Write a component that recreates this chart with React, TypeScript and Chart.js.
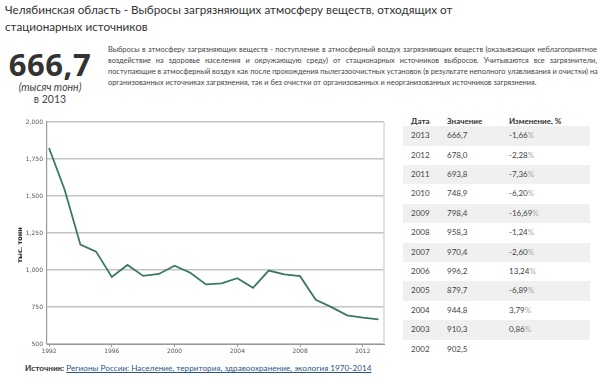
import React, { useEffect, useRef } from "react";
import { Chart, registerables } from "chart.js";

Chart.register(...registerables);

const years = [1992, 1993, 1994, 1995, 1996, 1997, 1998, 1999, 2000, 2001, 2002, 2003, 2004, 2005, 2006, 2007, 2008, 2009, 2010, 2011, 2012, 2013];
const emissions = [1824, 1541, 1171, 1124, 953, 1034, 960, 973, 1029, 982, 902.5, 910.3, 944.8, 879.7, 996.2, 970.4, 958.3, 798.4, 748.9, 693.8, 678.0, 666.7];
const xTicks = [1992, 1996, 2000, 2004, 2008, 2012];
const yTicks = [500, 750, 1000, 1250, 1500, 1750, 2000];
const yTitle = "тыс. тонн";

const tableYears = ["2013", "2012", "2011", "2010", "2009", "2008", "2007", "2006", "2005", "2004", "2003", "2002"];
const tableValues = ["666,7", "678,0", "693,8", "748,9", "798,4", "958,3", "970,4", "996,2", "879,7", "944,8", "910,3", "902,5"];
const tableChanges = ["-1,66", "-2,28", "-7,36", "-6,20", "-16,69", "-1,24", "-2,60", "13,24", "-6,89", "3,79", "0,86", ""];

const titleLines = ["Челябинская область - Выбросы загрязняющих атмосферу веществ, отходящих от", "стационарных источников"];
const descLines = [
  "Выбросы в атмосферу загрязняющих веществ - поступление в атмосферный воздух загрязняющих веществ (оказывающих неблагоприятное",
  "воздействие на здоровье населения и окружающую среду) от стационарных источников выбросов. Учитываются все загрязнители,",
  "поступающие в атмосферный воздух как после прохождения пылегазоочистных установок (в результате неполного улавливания и очистки) на",
  "организованных источниках загрязнения, так и без очистки от организованных и неорганизованных источников загрязнения.",
];

const FONT = "Lato, 'Open Sans', sans-serif";

const decor = {
  id: "decor",
  afterDraw(chart: any) {
    const { ctx, chartArea } = chart;
    ctx.save();
    ctx.strokeStyle = "#d8d8d8";
    ctx.lineWidth = 1.5;
    ctx.beginPath();
    ctx.moveTo(chartArea.right, chartArea.top);
    ctx.lineTo(chartArea.right, chartArea.bottom);
    ctx.stroke();
    ctx.translate(20, (chartArea.top + chartArea.bottom) / 2 + 12);
    ctx.rotate(-Math.PI / 2);
    ctx.font = "bold 6.5px 'DejaVu Sans', sans-serif";
    ctx.fillStyle = "#222";
    ctx.textAlign = "center";
    ctx.textBaseline = "middle";
    ctx.fillText(yTitle, 0, 0);
    ctx.restore();
  },
};

function LineChart() {
  const ref = useRef<HTMLCanvasElement>(null);
  useEffect(() => {
    if (!ref.current) return;
    const chart = new Chart(ref.current, {
      type: "line",
      data: {
        datasets: [
          {
            data: years.map((y, i) => ({ x: y, y: emissions[i] })),
            borderColor: "#3a7a5c",
            borderWidth: 1.8,
            pointRadius: 0,
            tension: 0,
            fill: false,
          },
        ],
      },
      options: {
        animation: false,
        responsive: false,
        maintainAspectRatio: false,
        layout: { padding: { left: 0, top: 12, right: 8, bottom: 0 } },
        plugins: { legend: { display: false }, tooltip: { enabled: false } },
        scales: {
          x: {
            type: "linear",
            min: 1991.87,
            max: 2013.35,
            afterBuildTicks: (scale: any) => {
              scale.ticks = xTicks.map((v) => ({ value: v }));
            },
            afterFit: (scale: any) => {
              scale.height = 16;
            },
            grid: { drawOnChartArea: false, drawTicks: true, tickLength: 3, color: "#999" },
            border: { color: "#999", width: 1 },
            ticks: {
              font: { family: "'DejaVu Sans', sans-serif", size: 6 },
              color: "#555",
              padding: 1,
              maxRotation: 0,
              autoSkip: false,
              callback: (v: any) => String(v),
            },
          },
          y: {
            min: 500,
            max: 2000,
            afterBuildTicks: (scale: any) => {
              scale.ticks = yTicks.map((v) => ({ value: v }));
            },
            afterFit: (scale: any) => {
              scale.width = 47;
            },
            grid: { color: "#c4c4c4", lineWidth: 1.5, drawTicks: false },
            border: { color: "#999", width: 1.2 },
            ticks: {
              font: { family: "'DejaVu Sans', sans-serif", size: 6 },
              color: "#555",
              padding: 4,
              autoSkip: false,
              callback: (v: any) => Number(v).toLocaleString("en-US"),
            },
          },
        },
      },
      plugins: [decor],
    } as any);
    return () => chart.destroy();
  }, []);
  return <canvas ref={ref} width={392} height={250} style={{ position: "absolute", left: 0, top: 110, width: 392, height: 250 }} />;
}

export default function App() {
  const rowH = 19.4;
  const cell = (left: number) => ({ position: "absolute" as const, left, top: 0, lineHeight: rowH + "px" });
  return (
    <div style={{ position: "absolute", left: 0, top: 0, width: 600, height: 377, background: "#fff", overflow: "hidden", fontFamily: FONT, color: "#333" }}>
      <div style={{ position: "absolute", left: 5, top: 1, fontSize: 11.7, lineHeight: "17px", color: "#333", whiteSpace: "nowrap" }}>
        {titleLines.map((l, i) => (
          <div key={i}>{l}</div>
        ))}
      </div>

      <div style={{ position: "absolute", left: 0, top: 48, width: 100, textAlign: "center" }}>
        <div style={{ fontFamily: "'Open Sans', sans-serif", fontSize: 31, fontWeight: 700, lineHeight: "33px", color: "#333", letterSpacing: 0.6 }}>666,7</div>
        <div style={{ fontSize: 10.5, fontStyle: "italic", lineHeight: "12px", color: "#444" }}>(тысяч тонн)</div>
        <div style={{ fontSize: 10.5, lineHeight: "13px", color: "#444" }}>в 2013</div>
      </div>

      <div style={{ position: "absolute", left: 108, top: 44, width: 489, fontSize: 7.4, lineHeight: "11px", color: "#444" }}>
        {descLines.map((l, i) => (
          <div
            key={i}
            style={{
              whiteSpace: "nowrap",
              textAlign: "justify",
              textAlignLast: i < descLines.length - 1 ? "justify" : "left",
            } as any}
          >
            {l}
          </div>
        ))}
      </div>

      <LineChart />

      <div style={{ position: "absolute", left: 25, top: 362, fontSize: 8.2, lineHeight: "12px", whiteSpace: "nowrap" }}>
        <span style={{ fontWeight: 700, color: "#333" }}>Источник: </span>
        <span style={{ color: "#2b5687", textDecoration: "underline" }}>Регионы России: Население, территория, здравоохранение, экология 1970-2014</span>
      </div>

      <div style={{ position: "absolute", left: 403, top: 112, width: 187, fontSize: 8, color: "#444" }}>
        <div style={{ position: "relative", height: 14.3, fontWeight: 700, color: "#333" }}>
          <span style={{ ...cell(8), lineHeight: "18px" }}>Дата</span>
          <span style={{ ...cell(44), lineHeight: "18px" }}>Значение</span>
          <span style={{ ...cell(106), lineHeight: "18px" }}>Изменение, %</span>
        </div>
        {tableYears.map((y, i) => (
          <div key={y} style={{ position: "relative", height: rowH, background: i % 2 === 0 ? "#f0f0f0" : "#fff" }}>
            <span style={cell(8)}>{y}</span>
            <span style={cell(44)}>{tableValues[i]}</span>
            {tableChanges[i] !== "" && (
              <span style={cell(106)}>
                {tableChanges[i]}
                <span style={{ color: "#aaa" }}>%</span>
              </span>
            )}
          </div>
        ))}
      </div>
    </div>
  );
}
